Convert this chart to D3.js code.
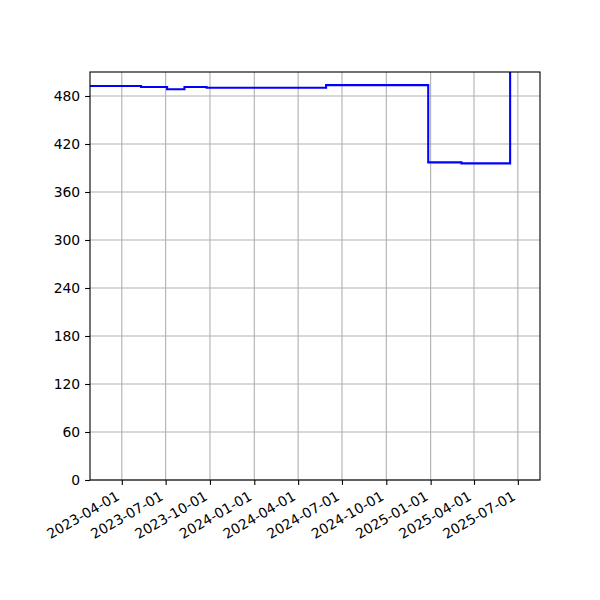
<!DOCTYPE html>
<html>
<head>
<meta charset="utf-8">
<script src="https://cdn.jsdelivr.net/npm/d3@7"></script>
<style>
  body { margin: 0; background: #fff; }
  text { font-family: "DejaVu Sans", sans-serif; font-size: 13.9px; fill: #000; }
</style>
</head>
<body>
<svg id="chart" width="600" height="600"></svg>
<script>
// step changes (value holds until the next date)
const stepDates = [
  "2023-01-25", "2023-05-11", "2023-07-04", "2023-08-09", "2023-09-24",
  "2024-05-29", "2024-12-27", "2025-03-06", "2025-06-15", "2025-07-05",
];
const stepValues = [492.5, 491.2, 488.4, 491.2, 490.4, 493.6, 397.0, 395.8, 540, 540];
const yTicks = [0, 60, 120, 180, 240, 300, 360, 420, 480];
const xTickLabels = [
  "2023-04-01", "2023-07-01", "2023-10-01", "2024-01-01", "2024-04-01",
  "2024-07-01", "2024-10-01", "2025-01-01", "2025-04-01", "2025-07-01",
];

const width = 600;
const height = 600;
const margin = { left: 90, right: 60, top: 72, bottom: 120 };
const parse = d3.timeParse("%Y-%m-%d");

const data = stepDates.map((d, i) => ({ date: parse(d), value: stepValues[i] }));

const svg = d3.select("#chart");

const xScale = d3
  .scaleTime()
  .domain([parse("2023-01-25"), parse("2025-08-16")])
  .range([margin.left, width - margin.right]);

const yScale = d3
  .scaleLinear()
  .domain([0, 510])
  .range([height - margin.bottom, margin.top]);

const plotW = width - margin.left - margin.right;
const plotH = height - margin.top - margin.bottom;

// grid
svg.append("g")
  .selectAll("line")
  .data(xTickLabels)
  .join("line")
  .attr("x1", (d) => xScale(parse(d)))
  .attr("x2", (d) => xScale(parse(d)))
  .attr("y1", margin.top)
  .attr("y2", height - margin.bottom)
  .attr("stroke", "#b0b0b0")
  .attr("stroke-width", 1.1);

svg.append("g")
  .selectAll("line")
  .data(yTicks)
  .join("line")
  .attr("x1", margin.left)
  .attr("x2", width - margin.right)
  .attr("y1", (d) => yScale(d))
  .attr("y2", (d) => yScale(d))
  .attr("stroke", "#b0b0b0")
  .attr("stroke-width", 1.1);

svg.append("clipPath")
  .attr("id", "plotClip")
  .append("rect")
  .attr("x", margin.left)
  .attr("y", margin.top)
  .attr("width", plotW)
  .attr("height", plotH);

const line = d3
  .line()
  .x((d) => xScale(d.date))
  .y((d) => yScale(d.value))
  .curve(d3.curveStepAfter);

svg.append("path")
  .datum(data)
  .attr("d", line)
  .attr("fill", "none")
  .attr("stroke", "#0000ff")
  .attr("stroke-width", 2.08)
  .attr("clip-path", "url(#plotClip)");

// axes
const yAxis = d3.axisLeft(yScale).tickValues(yTicks).tickSize(4.9).tickPadding(4.9);
const gy = svg.append("g")
  .attr("transform", `translate(${margin.left},0)`)
  .call(yAxis);
gy.select(".domain").remove();
gy.selectAll(".tick line").attr("stroke", "#000").attr("stroke-width", 1.1);
gy.selectAll(".tick text").style("font-size", "13.9px").style("font-family", "DejaVu Sans");

const xAxis = d3.axisBottom(xScale)
  .tickValues(xTickLabels.map(parse))
  .tickFormat(d3.timeFormat("%Y-%m-%d"))
  .tickSize(4.9)
  .tickPadding(4.9);
const gx = svg.append("g")
  .attr("transform", `translate(0,${height - margin.bottom})`)
  .call(xAxis);
gx.select(".domain").remove();
gx.selectAll(".tick line").attr("stroke", "#000").attr("stroke-width", 1.1);
gx.selectAll(".tick text")
  .style("font-size", "13.9px")
  .style("font-family", "DejaVu Sans")
  .attr("text-anchor", "end")
  .attr("dy", null)
  .attr("y", null)
  .attr("transform", "translate(-2,19) rotate(-30)");

// frame
svg.append("rect")
  .attr("x", margin.left)
  .attr("y", margin.top)
  .attr("width", plotW)
  .attr("height", plotH)
  .attr("fill", "none")
  .attr("stroke", "#000")
  .attr("stroke-width", 1.1);
</script>
</body>
</html>
